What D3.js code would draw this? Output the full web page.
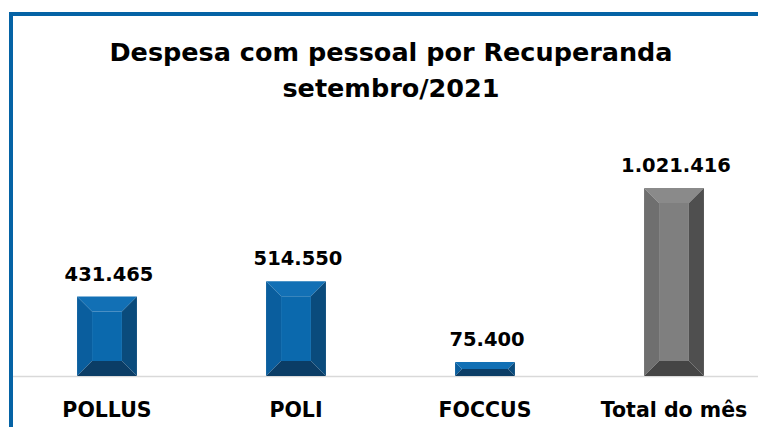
<!DOCTYPE html>
<html>
<head>
<meta charset="utf-8">
<script src="https://cdn.jsdelivr.net/npm/d3@7"></script>
<style>
  body { margin: 0; background: #fff; }
  text { font-family: "DejaVu Sans", sans-serif; font-weight: bold; fill: #000; }
</style>
</head>
<body>
<div id="chart"></div>
<script>
// data
var categories = ["POLLUS", "POLI", "FOCCUS", "Total do mês"];
var values = [431465, 514550, 75400, 1021416];
var titleLines = ["Despesa com pessoal por Recuperanda", "setembro/2021"];

var W = 758, H = 427;
var base = 376;

var svg = d3.select("#chart").append("svg")
  .attr("width", W)
  .attr("height", H);

// frame (left + top edge of the cropped chart box)
svg.append("rect").attr("x", 9).attr("y", 12).attr("width", W).attr("height", 4).attr("fill", "#0563a5");
svg.append("rect").attr("x", 9).attr("y", 12).attr("width", 4).attr("height", H).attr("fill", "#0563a5");

var x = d3.scaleBand()
  .domain(categories)
  .range([12.5, 768.5])
  .paddingInner(0.683)
  .paddingOuter(0.3415);

var y = d3.scaleLinear()
  .domain([0, d3.max(values)])
  .range([base, 188]);

var fmt = d3.formatLocale({ decimal: ",", thousands: ".", grouping: [3], currency: ["", ""] }).format(",d");

// title
svg.selectAll("text.title")
  .data(titleLines)
  .enter()
  .append("text")
  .attr("class", "title")
  .attr("x", 391)
  .attr("y", function(d, i) { return 61 + i * 36; })
  .attr("text-anchor", "middle")
  .style("font-size", "25.5px")
  .text(function(d) { return d; });

// baseline
svg.append("line")
  .attr("x1", 13).attr("x2", W)
  .attr("y1", base + 0.5).attr("y2", base + 0.5)
  .attr("stroke", "#d9d9d9")
  .attr("stroke-width", 1.5);

var blue = { top: "#1270b5", left: "#0a5e9e", mid: "#0b69ad", right: "#0a4b7c", bottom: "#0b3d66" };
var gray = { top: "#8a8a8a", left: "#6f6f6f", mid: "#7f7f7f", right: "#4f4f4f", bottom: "#454545" };

var bars = svg.selectAll("g.bar")
  .data(values)
  .enter()
  .append("g")
  .attr("class", "bar");

// bevelled bars: four slanted faces around a flat middle
bars.each(function(d, i) {
  var g = d3.select(this);
  var c = i === categories.length - 1 ? gray : blue;
  var x0 = x(categories[i]), x1 = x0 + x.bandwidth();
  var y0 = y(d), y1 = y(0);
  var inset = Math.min(15, (y1 - y0) / 2, x.bandwidth() / 2);
  var ix0 = x0 + inset, ix1 = x1 - inset, iy0 = y0 + inset, iy1 = y1 - inset;

  function poly(pts, fill) {
    g.append("polygon")
      .attr("points", pts.map(function(p) { return p.join(","); }).join(" "))
      .attr("fill", fill);
  }
  poly([[x0, y0], [x1, y0], [ix1, iy0], [ix0, iy0]], c.top);
  poly([[x0, y0], [ix0, iy0], [ix0, iy1], [x0, y1]], c.left);
  poly([[x1, y0], [x1, y1], [ix1, iy1], [ix1, iy0]], c.right);
  poly([[x0, y1], [ix0, iy1], [ix1, iy1], [x1, y1]], c.bottom);
  if (iy1 > iy0) poly([[ix0, iy0], [ix1, iy0], [ix1, iy1], [ix0, iy1]], c.mid);
});

// value labels
svg.selectAll("text.value")
  .data(values)
  .enter()
  .append("text")
  .attr("class", "value")
  .attr("x", function(d, i) { return x(categories[i]) + x.bandwidth() / 2 + 2; })
  .attr("y", function(d) { return y(d) - 16; })
  .attr("text-anchor", "middle")
  .style("font-size", "19.5px")
  .text(function(d) { return fmt(d); });

// category labels
svg.selectAll("text.cat")
  .data(categories)
  .enter()
  .append("text")
  .attr("class", "cat")
  .attr("x", function(d) { return x(d) + x.bandwidth() / 2; })
  .attr("y", 417)
  .attr("text-anchor", "middle")
  .style("font-size", "20.5px")
  .text(function(d) { return d; });
</script>
</body>
</html>
